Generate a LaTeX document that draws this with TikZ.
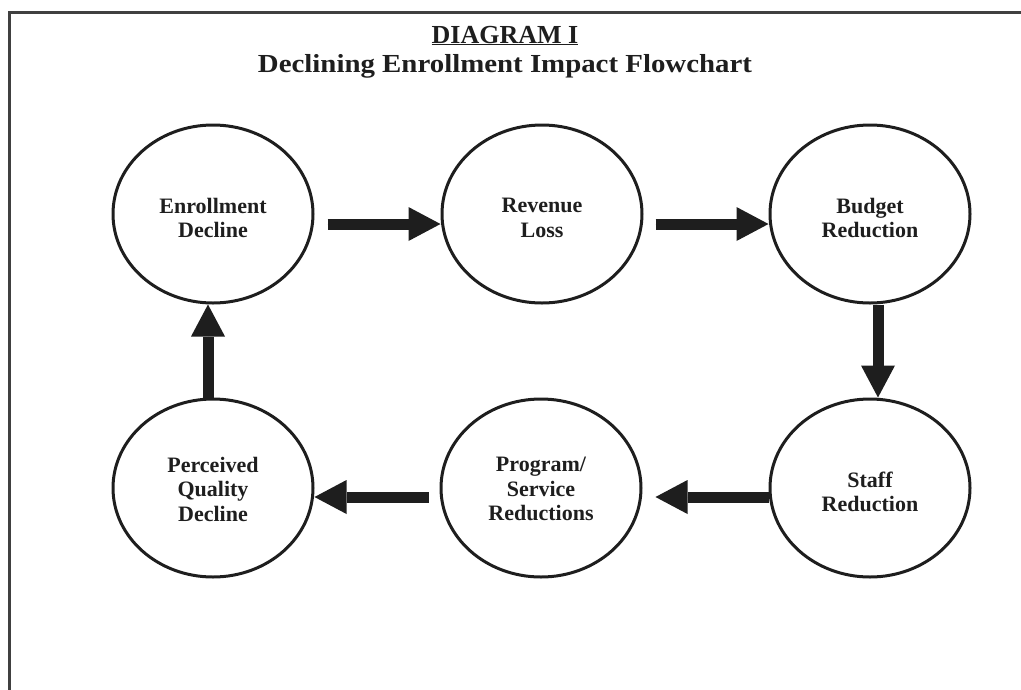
\documentclass[tikz,border=0pt]{standalone}
\usepackage{fontspec}
\setmainfont{Liberation Serif}
\newfontfamily\widetitle[FakeStretch=1.11]{Liberation Serif}
\usetikzlibrary{shapes.geometric,arrows.meta}
\definecolor{ink}{HTML}{1E1E1E}
\begin{document}
\begin{tikzpicture}[x=1pt,y=-1pt,
  bubble/.style={ellipse,draw=ink,line width=3pt,minimum width=200pt,minimum height=178pt,inner sep=0pt},
  lbl/.style={align=center,text=ink,font=\fontsize{22}{24.5}\selectfont\bfseries,inner sep=0pt,yshift=-4pt},
  bigarrow/.style={draw=ink,line width=11pt,-{Triangle[width=34pt,length=32pt,line width=0pt]},fill=ink},
  frame/.style={draw=ink!85,line width=3pt},
  titletext/.style={text=ink,font=\fontsize{26}{29}\selectfont\bfseries,inner sep=0pt,anchor=base}
]
\useasboundingbox (0,0) rectangle (1021,689);
\draw[frame] (1022,12) -- (9,12) -- (9,690);

\node[titletext] (t1) at (505,43) {\underline{DIAGRAM I}};
\node[titletext] (t2) at (505,72) {\widetitle\bfseries Declining Enrollment Impact Flowchart};

\node[bubble,label={[lbl]center:Enrollment\\Decline}] (E) at (213,214) {};
\node[bubble,label={[lbl]center:Revenue\\Loss}] (R) at (542,214) {};
\node[bubble,label={[lbl]center:Budget\\Reduction}] (B) at (870,214) {};
\node[bubble,label={[lbl]center:Staff\\Reduction}] (S) at (870,488) {};
\node[bubble,label={[lbl,yshift=3pt]center:Program/\\Service\\Reductions}] (P) at (541,488) {};
\node[bubble,label={[lbl,yshift=3pt]center:Perceived\\Quality\\Decline}] (Q) at (213,488) {};

\draw[bigarrow,shorten <=13pt] ([yshift=-10pt]E.east) -- ([yshift=-10pt]R.west);
\draw[bigarrow,shorten <=12pt] ([yshift=-10pt]R.east) -- ([yshift=-10pt]B.west);
\draw[bigarrow] ([xshift=8pt]B.south) -- ([xshift=8pt]S.north);
\draw[bigarrow,shorten >=13pt] ([yshift=-9pt]S.west) -- ([yshift=-9pt]P.east);
\draw[bigarrow,shorten <=11pt] ([yshift=-9pt]P.west) -- ([yshift=-9pt]Q.east);
\draw[bigarrow] ([xshift=-5pt]Q.north) -- ([xshift=-5pt]E.south);
\end{tikzpicture}
\end{document}
